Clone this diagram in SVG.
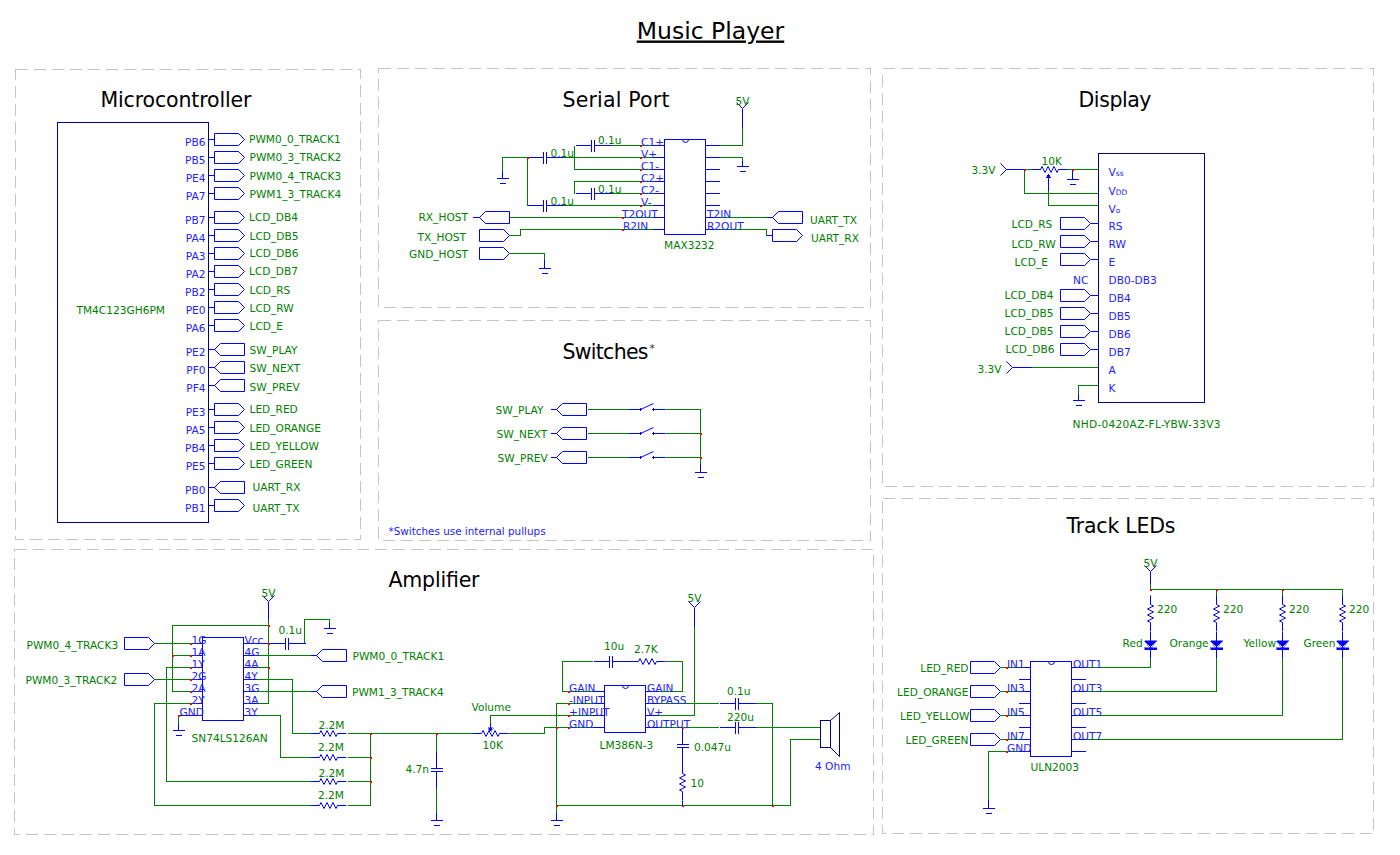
<svg xmlns="http://www.w3.org/2000/svg" width="1400" height="855" viewBox="0 0 1400 855">
<style>
text{font-family:"DejaVu Sans","Liberation Sans",sans-serif;font-size:10.6px;fill:#008000}
.p{fill:#2222ff}
.h{fill:#000;font-size:20.5px;text-anchor:middle}
.e{text-anchor:end}
.m{text-anchor:middle}
path,rect,use{shape-rendering:crispEdges}
.panel{fill:none;stroke:#c4c4c4;stroke-dasharray:12 6}
.b{fill:none;stroke:#0000ff}
.n{fill:none;stroke:#000080}
.z{fill:none;stroke:#0000ff;shape-rendering:auto}
.f{fill:#0000ff;stroke:#0000ff;stroke-width:.5}
#connectors path{fill:none;stroke:#008000}
#junctions{fill:#ff0000;stroke:none}
</style>
<defs>
<path id="gnd" class="b" d="M-6 0H6M-3 5H3"/>
<path id="vcc" class="b" d="M-6-6 0 0 6-6" style="shape-rendering:auto"/>
<path id="pr" class="b" d="M0-6H24L30 0 24 6H0Z" style="shape-rendering:auto"/>
<path id="pl" class="b" d="M0 0 6-6H30V6H6Z" style="shape-rendering:auto"/>
<path id="cap" class="b" d="M-18 0H-2M1 0H18M-2-6V6M1-6V6"/>
<path id="res" class="z" d="M-18 0H-9L-7.5-3-4.5 3-1.5-3 1.5 3 4.5-3 7.5 3 9 0H18"/>
<g id="sw"><path class="z" d="M-12 0H0L13-6M13 0H25"/><circle class="f" cx="0" cy="0" r="1.2"/><circle class="f" cx="13" cy="0" r="1.2"/></g>
<g id="led"><path class="f" d="M-6 0H6L0 7Z"/><rect class="f" x="-6" y="7" width="12" height="2"/></g>
</defs>
<g transform="translate(.5 .5)">
<g id="panels">
<rect class="panel" x="15" y="69" width="345" height="470"/>
<rect class="panel" x="378" y="68" width="492" height="239"/>
<rect class="panel" x="378" y="320" width="492" height="220"/>
<rect class="panel" x="882" y="68" width="491" height="418"/>
<rect class="panel" x="882" y="498" width="491" height="335"/>
<rect class="panel" x="14" y="549" width="859" height="285"/>
</g>
<g id="titles">
<text x="710" y="38" class="h" style="font-size:23.5px;text-decoration:underline">Music Player</text>
<text x="175.500" y="106" class="h" textLength="151">Microcontroller</text>
<text x="615.500" y="106" class="h" textLength="107">Serial Port</text>
<text x="605" y="358" class="h" textLength="86">Switches</text>
<text x="649" y="351" style="font-size:11px;fill:#333">*</text>
<text x="1114.500" y="106" class="h" textLength="73">Display</text>
<text x="1120.500" y="532" class="h" textLength="109">Track LEDs</text>
<text x="433.500" y="586" class="h" textLength="91">Amplifier</text>
<text x="388" y="534" class="p" style="font-size:10.4px">*Switches use internal pullups</text>
</g>
<g id="connectors">
<path d="M502 170V157H527V205"/><path d="M563 157H652"/><path d="M563 205H652"/>
<path d="M610 145H652"/><path d="M574 145V169H652"/><path d="M574 193V181H652"/><path d="M610 193H652"/>
<path d="M509 217H652"/><path d="M509 235H520V229H652"/><path d="M509 253H544V259"/>
<path d="M719 145H742V127"/><path d="M719 157H742V160"/>
<path d="M719 217H766"/><path d="M719 229H766V235"/>
<path d="M587 409H628"/><path d="M587 433H628"/><path d="M587 457H628"/>
<path d="M665 409H700V463"/><path d="M665 433H700"/><path d="M665 457H700"/>
<path d="M1024 169H1040"/><path d="M1024 169V193H1097"/><path d="M1058 169H1097"/>
<path d="M1048 190V205H1097"/><path d="M1031 367H1097"/><path d="M1097 385H1078V393"/>
<path d="M1150 583V589H1342V595"/><path d="M1216 589V595"/><path d="M1282 589V595"/>
<path d="M1085 667H1150V657"/><path d="M1085 691H1216V657"/><path d="M1085 715H1282V657"/><path d="M1085 739H1342V657"/>
<path d="M1000 667H1018"/><path d="M1000 691H1018"/><path d="M1000 715H1018"/><path d="M1000 739H1018"/>
<path d="M1018 751H988V799"/>
<path d="M268 619V703H256"/><path d="M268 625H172V691H190"/><path d="M172 655H190"/><path d="M256 667H268"/>
<path d="M304 643V619H329V622"/>
<path d="M154 643H190"/><path d="M154 679H190"/>
<path d="M190 667H166V781H310"/><path d="M190 703H154V805H310"/>
<path d="M190 715H178V723"/>
<path d="M256 679H292V733H310"/><path d="M256 715H280V757H310"/>
<path d="M256 655H310"/><path d="M256 691H310"/>
<path d="M347 733H472"/><path d="M347 757H370"/><path d="M347 781H370"/><path d="M347 805H370V733"/>
<path d="M436 733V751"/><path d="M436 788V812"/>
<path d="M508 733H544V727H592"/><path d="M490 722V715H592"/>
<path d="M592 703H556V812"/><path d="M592 691H562V661H592"/>
<path d="M665 661H682V691H658"/>
<path d="M694 626V715H658"/>
<path d="M658 703H718"/><path d="M658 727H718"/>
<path d="M755 703H772V805"/><path d="M755 727H820"/>
<path d="M556 805H790V739H820"/>
</g>
<g id="mcu">
<rect class="n" x="57" y="122" width="151" height="400"/>
<path class="b" d="M208 139h6M208 157h6M208 175h6M208 193h6M208 217h6M208 235h6M208 253h6M208 271h6M208 289h6M208 307h6M208 325h6M208 349h6M208 367h6M208 385h6M208 409h6M208 427h6M208 445h6M208 463h6M208 487h6M208 505h6"/>
<use href="#pr" x="214" y="139"/><use href="#pr" x="214" y="157"/><use href="#pr" x="214" y="175"/><use href="#pr" x="214" y="193"/>
<use href="#pr" x="214" y="217"/><use href="#pr" x="214" y="235"/><use href="#pr" x="214" y="253"/><use href="#pr" x="214" y="271"/>
<use href="#pr" x="214" y="289"/><use href="#pr" x="214" y="307"/><use href="#pr" x="214" y="325"/>
<use href="#pl" x="214" y="349"/><use href="#pl" x="214" y="367"/><use href="#pl" x="214" y="385"/>
<use href="#pr" x="214" y="409"/><use href="#pr" x="214" y="427"/><use href="#pr" x="214" y="445"/><use href="#pr" x="214" y="463"/>
<use href="#pl" x="214" y="487"/><use href="#pr" x="214" y="505"/>
<text x="76" y="313">TM4C123GH6PM</text>
<text class="p e" x="205" y="145">PB6</text><text class="p e" x="205" y="163">PB5</text><text class="p e" x="205" y="181">PE4</text><text class="p e" x="205" y="199">PA7</text>
<text class="p e" x="205" y="223">PB7</text><text class="p e" x="205" y="241">PA4</text><text class="p e" x="205" y="259">PA3</text><text class="p e" x="205" y="277">PA2</text>
<text class="p e" x="205" y="295">PB2</text><text class="p e" x="205" y="313">PE0</text><text class="p e" x="205" y="331">PA6</text>
<text class="p e" x="205" y="355">PE2</text><text class="p e" x="205" y="373">PF0</text><text class="p e" x="205" y="391">PF4</text>
<text class="p e" x="205" y="415">PE3</text><text class="p e" x="205" y="433">PA5</text><text class="p e" x="205" y="451">PB4</text><text class="p e" x="205" y="469">PE5</text>
<text class="p e" x="205" y="493">PB0</text><text class="p e" x="205" y="511">PB1</text>
<text x="248.500" y="142">PWM0_0_TRACK1</text><text x="249" y="160.500">PWM0_3_TRACK2</text><text x="249" y="179">PWM0_4_TRACK3</text><text x="249" y="197">PWM1_3_TRACK4</text>
<text x="248.500" y="220">LCD_DB4</text><text x="249" y="239">LCD_DB5</text><text x="249" y="256">LCD_DB6</text><text x="248.500" y="274">LCD_DB7</text>
<text x="249" y="293">LCD_RS</text><text x="249" y="311">LCD_RW</text><text x="249" y="329">LCD_E</text>
<text x="249" y="353">SW_PLAY</text><text x="249" y="371">SW_NEXT</text><text x="249" y="390">SW_PREV</text>
<text x="249" y="412">LED_RED</text><text x="249" y="431">LED_ORANGE</text><text x="249" y="449">LED_YELLOW</text><text x="249" y="467">LED_GREEN</text>
<text x="252" y="490">UART_RX</text><text x="252" y="511">UART_TX</text>
</g>
<g id="max3232">
<rect class="b" x="664" y="139" width="41" height="95"/>
<path class="z" d="M682 139a3 3 0 0 0 6 0"/>
<path class="b" d="M652 145h12M652 157h12M652 169h12M652 181h12M652 193h12M652 205h12M652 217h12M652 229h12M705 145h14M705 157h14M705 169h14M705 181h14M705 193h14M705 205h14M705 217h14M705 229h14"/>
<text class="p" x="640.500" y="145">C1+</text><text class="p" x="640.500" y="157">V+</text><text class="p" x="640.500" y="169">C1-</text><text class="p" x="640.500" y="181">C2+</text><text class="p" x="640.500" y="193">C2-</text><text class="p" x="640.500" y="205">V-</text>
<text class="p" x="621.500" y="217">T2OUT</text><text class="p" x="622.500" y="229">R2IN</text><text class="p" x="706.500" y="217">T2IN</text><text class="p" x="706.500" y="229">R2OUT</text>
<text x="663.500" y="248">MAX3232</text>
</g>
<g id="serial-parts">
<use href="#cap" x="593" y="145"/><use href="#cap" x="545" y="157"/><use href="#cap" x="593" y="193"/><use href="#cap" x="545" y="205"/>
<text x="597.500" y="143.500">0.1u</text><text x="550" y="156.500">0.1u</text><text x="597.500" y="192.500">0.1u</text><text x="550" y="204">0.1u</text>
<path class="b" d="M502 170V178M544 259V268M742 160V166M742 127V108"/>
<use href="#gnd" x="502" y="178"/><use href="#gnd" x="544" y="268"/><use href="#gnd" x="742" y="166"/><use href="#vcc" x="742" y="108"/>
<text class="m" x="742" y="104">5V</text>
<path class="b" d="M472 217h7M766 217h6M766 235h6"/>
<use href="#pl" x="479" y="217"/><use href="#pr" x="479" y="235"/><use href="#pr" x="479" y="253"/><use href="#pl" x="772" y="217"/><use href="#pr" x="772" y="235"/>
<text x="418" y="220.500">RX_HOST</text><text x="417" y="240">TX_HOST</text><text x="408.500" y="257">GND_HOST</text>
<text x="809.500" y="223.500">UART_TX</text><text x="810.500" y="241">UART_RX</text>
</g>
<g id="switches">
<path class="b" d="M550 409h6M550 433h6M550 457h6M700 463V472"/>
<use href="#pl" x="556" y="409"/><use href="#pl" x="556" y="433"/><use href="#pl" x="556" y="457"/>
<use href="#sw" x="640" y="409"/><use href="#sw" x="640" y="433"/><use href="#sw" x="640" y="457"/>
<use href="#gnd" x="700" y="472"/>
<text x="495" y="413">SW_PLAY</text><text x="496" y="437.500">SW_NEXT</text><text x="497" y="461">SW_PREV</text>
</g>
<g id="display">
<rect class="n" x="1098" y="153" width="106" height="249"/>
<path class="b" d="M1000 163 1006 169 1000 175" style="shape-rendering:auto"/><path class="b" d="M1006 169H1024M1006 361 1012 367 1006 373" style="shape-rendering:auto"/><path class="b" d="M1012 367H1031"/>
<text x="971" y="173">3.3V</text><text x="977" y="372">3.3V</text>
<use href="#res" x="1049" y="169"/>
<path class="b" d="M1048 175V190"/><path class="f" d="M1048 173 1045.500 177H1050.500Z"/>
<text x="1041" y="164.500">10K</text>
<path class="b" d="M1072 169V179M1078 393V400"/><use href="#gnd" x="1072" y="179"/><use href="#gnd" x="1078" y="400"/>
<path class="b" d="M1090 223h7M1090 241h7M1090 259h7M1090 295h7M1090 313h7M1090 331h7M1090 349h7"/>
<use href="#pr" x="1060" y="223"/><use href="#pr" x="1060" y="241"/><use href="#pr" x="1060" y="259"/><use href="#pr" x="1060" y="295"/><use href="#pr" x="1060" y="313"/><use href="#pr" x="1060" y="331"/><use href="#pr" x="1060" y="349"/>
<text x="1011" y="227">LCD_RS</text><text x="1011" y="247">LCD_RW</text><text x="1014" y="265">LCD_E</text>
<text x="1004" y="298">LCD_DB4</text><text x="1004" y="316">LCD_DB5</text><text x="1004" y="334">LCD_DB5</text><text x="1005" y="352">LCD_DB6</text>
<text class="p" x="1108" y="175">V<tspan style="font-size:7.500px">ss</tspan></text><text class="p" x="1108" y="194">V<tspan style="font-size:7.500px">DD</tspan></text><text class="p" x="1108" y="212">V<tspan style="font-size:7.500px">o</tspan></text>
<text class="p" x="1108" y="229.500">RS</text><text class="p" x="1108" y="247.500">RW</text><text class="p" x="1108" y="265.500">E</text><text class="p" x="1108" y="283.500">DB0-DB3</text>
<text class="p" x="1108" y="301.500">DB4</text><text class="p" x="1108" y="319.500">DB5</text><text class="p" x="1108" y="337.500">DB6</text><text class="p" x="1108" y="355.500">DB7</text><text class="p" x="1108" y="373.500">A</text><text class="p" x="1108" y="391.500">K</text>
<text class="p" x="1072.500" y="283.500">NC</text>
<text x="1072" y="427" textLength="148">NHD-0420AZ-FL-YBW-33V3</text>
</g>
<g id="track-leds">
<rect class="b" x="1030" y="661" width="41" height="95"/>
<path class="z" d="M1048 661a3 3 0 0 0 6 0"/>
<path class="b" d="M1018 667h12M1018 679h12M1018 691h12M1018 703h12M1018 715h12M1018 727h12M1018 739h12M1018 751h12M1071 667h14M1071 679h14M1071 691h14M1071 703h14M1071 715h14M1071 727h14M1071 739h14M1071 751h14"/>
<use href="#pr" x="970" y="667"/><use href="#pr" x="970" y="691"/><use href="#pr" x="970" y="715"/><use href="#pr" x="970" y="739"/>
<text class="e" x="968" y="671">LED_RED</text><text class="e" x="968" y="695">LED_ORANGE</text><text class="e" x="969" y="719">LED_YELLOW</text><text class="e" x="968" y="743">LED_GREEN</text>
<text class="p" x="1006.500" y="667">IN1</text><text class="p" x="1006.500" y="691">IN3</text><text class="p" x="1006.500" y="715">IN5</text><text class="p" x="1006.500" y="739">IN7</text><text class="p" x="1006.500" y="751">GND</text>
<text class="p" x="1072.500" y="667">OUT1</text><text class="p" x="1072.500" y="691">OUT3</text><text class="p" x="1072.500" y="715">OUT5</text><text class="p" x="1072.500" y="739">OUT7</text>
<text x="1030" y="770">ULN2003</text>
<path class="b" d="M1150 571V583M988 799V808"/><use href="#vcc" x="1150" y="571"/><use href="#gnd" x="988" y="808"/>
<text class="m" x="1150" y="566">5V</text>
<g transform="translate(1150 613) rotate(90)"><use href="#res"/></g><g transform="translate(1216 613) rotate(90)"><use href="#res"/></g><g transform="translate(1282 613) rotate(90)"><use href="#res"/></g><g transform="translate(1342 613) rotate(90)"><use href="#res"/></g>
<path class="b" d="M1150 631V657M1216 631V657M1282 631V657M1342 631V657"/>
<use href="#led" x="1150" y="640"/><use href="#led" x="1216" y="640"/><use href="#led" x="1282" y="640"/><use href="#led" x="1342" y="640"/>
<text x="1156.500" y="612">220</text><text x="1222.500" y="612">220</text><text x="1288.500" y="612">220</text><text x="1348.500" y="612">220</text>
<text x="1122" y="646">Red</text><text x="1169" y="646">Orange</text><text x="1243" y="646">Yellow</text><text x="1303" y="646">Green</text>
</g>
<g id="sn74">
<rect class="b" x="202" y="637" width="41" height="83"/>
<path class="b" d="M190 643h12M190 655h12M190 667h12M190 679h12M190 691h12M190 703h12M178 715h24M243 643h25M243 655h13M243 667h13M243 679h13M243 691h13M243 703h13M243 715h13"/>
<text class="p" x="191" y="643">1G</text><text class="p" x="191" y="655">1A</text><text class="p" x="191" y="667">1Y</text><text class="p" x="191" y="679">2G</text><text class="p" x="191" y="691">2A</text><text class="p" x="191" y="703">2Y</text><text class="p" x="179" y="715">GND</text>
<text class="p" x="244" y="643">Vcc</text><text class="p" x="244" y="655">4G</text><text class="p" x="244" y="667">4A</text><text class="p" x="244" y="679">4Y</text><text class="p" x="244" y="691">3G</text><text class="p" x="244" y="703">3A</text><text class="p" x="244" y="715">3Y</text>
<text x="191" y="741.500">SN74LS126AN</text>
</g>
<g id="amp-inputs">
<use href="#pr" x="124" y="643"/><use href="#pr" x="124" y="679"/><use href="#pl" x="316" y="655"/><use href="#pl" x="316" y="691"/>
<path class="b" d="M310 655h6M310 691h6M268 619V601M178 723V730M329 622V628"/>
<text x="26" y="648">PWM0_4_TRACK3</text><text x="25" y="683">PWM0_3_TRACK2</text><text x="352" y="659">PWM0_0_TRACK1</text><text x="351.500" y="695">PWM1_3_TRACK4</text>
<use href="#vcc" x="268" y="601"/><text class="m" x="268" y="596">5V</text>
<use href="#gnd" x="178" y="730"/><use href="#gnd" x="329" y="628"/>
<use href="#cap" x="287" y="643"/><path class="b" d="M268 643H269"/><text x="278" y="633.500">0.1u</text>
<use href="#res" x="328" y="733"/><use href="#res" x="328" y="757"/><use href="#res" x="328" y="781"/><use href="#res" x="328" y="805"/>
<text x="318" y="728">2.2M</text><text x="317.500" y="750">2.2M</text><text x="318" y="776">2.2M</text><text x="317.500" y="798">2.2M</text>
<path class="b" d="M436 751V768M436 771V788M430 768H442M430 771H442M436 812V820"/><use href="#gnd" x="436" y="820"/>
<text x="405" y="772.500">4.7n</text>
<use href="#res" x="490" y="733"/><path class="b" d="M490 722V729"/><path class="f" d="M490 731 487.500 727H492.500Z"/>
<text x="471" y="710.500">Volume</text><text x="482" y="748.500">10K</text>
</g>
<g id="lm386">
<rect class="b" x="604" y="685" width="41" height="47"/>
<path class="z" d="M622 685a3 3 0 0 0 6 0"/>
<path class="b" d="M592 691h12M592 703h12M592 715h12M592 727h12M645 691h13M645 703h13M645 715h13M645 727h13"/>
<text class="p" x="568.500" y="691">GAIN</text><text class="p" x="568.500" y="703">-INPUT</text><text class="p" x="568.500" y="715">+INPUT</text><text class="p" x="568.500" y="727">GND</text>
<text class="p" x="646.500" y="691">GAIN</text><text class="p" x="646.500" y="703">BYPASS</text><text class="p" x="646.500" y="715">V+</text><text class="p" x="646.500" y="727">OUTPUT</text>
<text x="599" y="748">LM386N-3</text>
<path class="b" d="M556 812V820M694 626V607"/><use href="#gnd" x="556" y="820"/><use href="#vcc" x="694" y="607"/><text class="m" x="694" y="601.500">5V</text>
<use href="#cap" x="611" y="661"/><use href="#res" x="647" y="661"/>
<text x="603.500" y="649.500">10u</text><text x="633.500" y="652.500">2.7K</text>
<use href="#cap" x="737" y="703"/><use href="#cap" x="737" y="727"/>
<text x="726.500" y="694.500">0.1u</text><text x="726.500" y="720.500">220u</text>
<path class="b" d="M682 727V744M676 744H688M676 747H688M682 747V764M682 800V805"/>
<g transform="translate(682 782) rotate(90)"><use href="#res"/></g>
<text x="693.500" y="750.500">0.047u</text><text x="690" y="786.500">10</text>
<rect class="n" x="820" y="720" width="10" height="27"/>
<path class="n" d="M830 720 839 712V756L830 747" style="shape-rendering:auto"/>
<text class="p" x="814.500" y="769">4 Ohm</text>
</g>
<path id="junctions" d="M639 144h2v2h-2zM639 156h2v2h-2zM639 168h2v2h-2zM639 180h2v2h-2zM639 192h2v2h-2zM639 204h2v2h-2zM621 216h2v2h-2zM621 228h2v2h-2zM526 156h2v2h-2zM699 432h2v2h-2zM699 456h2v2h-2zM1023 168h2v2h-2zM1071 168h2v2h-2zM1149 588h2v2h-2zM1215 588h2v2h-2zM1281 588h2v2h-2zM1005 666h2v2h-2zM1005 690h2v2h-2zM1005 714h2v2h-2zM1005 738h2v2h-2zM1005 750h2v2h-2zM189 642h2v2h-2zM189 654h2v2h-2zM189 666h2v2h-2zM189 678h2v2h-2zM189 690h2v2h-2zM189 702h2v2h-2zM171 654h2v2h-2zM177 714h2v2h-2zM267 624h2v2h-2zM267 642h2v2h-2zM267 666h2v2h-2zM369 732h2v2h-2zM369 756h2v2h-2zM369 780h2v2h-2zM435 732h2v2h-2zM567 690h2v2h-2zM567 702h2v2h-2zM567 714h2v2h-2zM567 726h2v2h-2zM555 726h2v2h-2zM555 804h2v2h-2zM681 726h2v2h-2zM681 804h2v2h-2zM771 804h2v2h-2z"/>
</g>
</svg>
